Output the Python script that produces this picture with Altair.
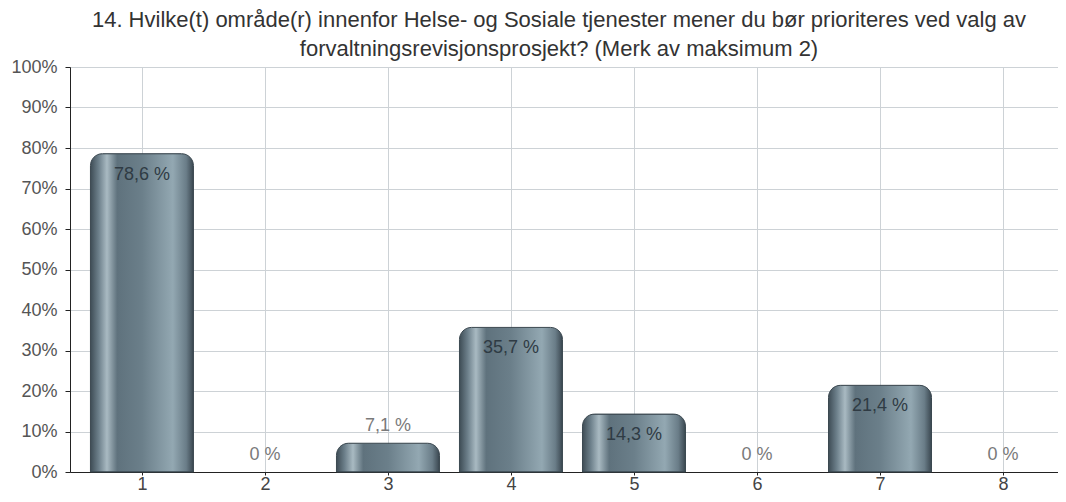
import altair as alt
import pandas as pd

categories = [1, 2, 3, 4, 5, 6, 7, 8]
values = [78.6, 0, 7.1, 35.7, 14.3, 0, 21.4, 0]
labels = ["78,6 %", "0 %", "7,1 %", "35,7 %", "14,3 %", "0 %", "21,4 %", "0 %"]
y_ticks = [0, 10, 20, 30, 40, 50, 60, 70, 80, 90, 100]

df = pd.DataFrame({"cat": categories, "val": values, "label": labels})

FONT = "Liberation Sans"

x_enc = alt.X("cat:Q", scale=alt.Scale(domain=[0.415, 8.447], nice=False, zero=False, padding=0),
              axis=alt.Axis(values=categories, format="d", title=None, grid=True,
                            gridColor="#cdd2d6", gridWidth=1,
                            domainColor="#222", tickColor="#222", tickSize=3,
                            labelFontSize=18, labelColor="#444", labelFont=FONT,
                            labelPadding=0))
y_scale = alt.Scale(domain=[0, 100], nice=False, padding=0)

grad = alt.LinearGradient(
    gradient="linear", x1=0, x2=1, y1=0, y2=0,
    stops=[
        alt.GradientStop(offset=0, color="#3e4c55"),
        alt.GradientStop(offset=0.08, color="#6d808b"),
        alt.GradientStop(offset=0.16, color="#a9bac2"),
        alt.GradientStop(offset=0.26, color="#5f727d"),
        alt.GradientStop(offset=0.5, color="#6b7f8a"),
        alt.GradientStop(offset=0.8, color="#93a8b2"),
        alt.GradientStop(offset=0.93, color="#6a7d88"),
        alt.GradientStop(offset=1, color="#3a4750"),
    ],
)

bars = alt.Chart(df).transform_filter("datum.val > 0").mark_bar(
    size=103, color=grad, cornerRadiusTopLeft=12, cornerRadiusTopRight=12,
    stroke="#3b4850", strokeWidth=1
).encode(
    x=x_enc,
    y=alt.Y("val:Q", scale=y_scale,
            axis=alt.Axis(values=y_ticks, labelExpr="datum.value + '%'", title=None,
                          grid=True, gridColor="#cdd2d6", gridWidth=1,
                          domainColor="#222", tickColor="#222", tickSize=5,
                          labelFontSize=18, labelColor="#555", labelFont=FONT,
                          labelPadding=8)),
)

inside = alt.Chart(df).transform_filter("datum.val >= 10").mark_text(
    dy=21, fontSize=18, font=FONT, color="#2f3b44"
).encode(x="cat:Q", y=alt.Y("val:Q", scale=y_scale), text="label:N")

outside = alt.Chart(df).transform_filter("datum.val < 10").mark_text(
    dy=-17, fontSize=18, font=FONT, color="#7a7a7a"
).encode(x="cat:Q", y=alt.Y("val:Q", scale=y_scale), text="label:N")

chart = alt.layer(bars, inside, outside).properties(
    width=988, height=405,
    autosize=alt.AutoSizeParams(type="none"),
    padding={"left": 62, "top": 59, "right": 0, "bottom": 22},
    title=alt.Title(
        ["14. Hvilke(t) område(r) innenfor Helse- og Sosiale tjenester mener du bør prioriteres ved valg av",
         "forvaltningsrevisjonsprosjekt? (Merk av maksimum 2)"],
        fontSize=22, font=FONT, fontWeight="normal", color="#333",
        anchor="middle", offset=5, lineHeight=29, dx=-5, dy=8,
    ),
).configure_view(
    fill="#e6e9ec", stroke="#aaaaaa", strokeWidth=1
).configure(background="white")

chart.save("out.html", embed_options={"renderer": "svg", "actions": False})
